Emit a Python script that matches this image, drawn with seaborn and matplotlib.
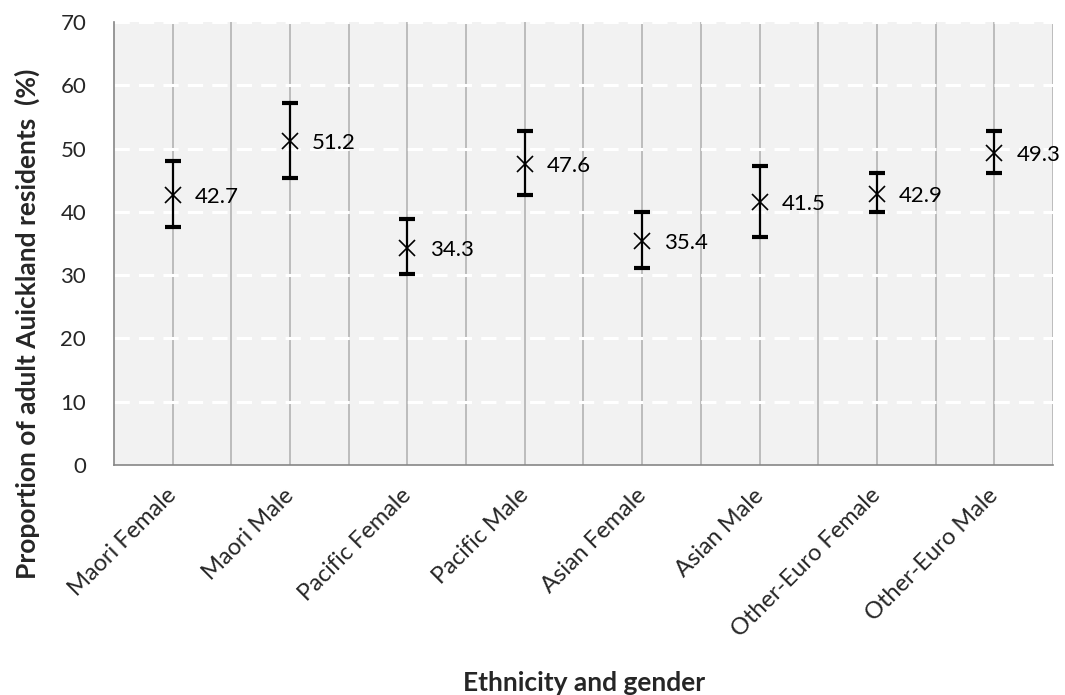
import numpy as np
import pandas as pd
import matplotlib.pyplot as plt
import matplotlib.transforms as mtransforms
import seaborn as sns

groups = ["Maori Female", "Maori Male", "Pacific Female", "Pacific Male",
          "Asian Female", "Asian Male", "Other-Euro Female", "Other-Euro Male"]
estimate = [42.7, 51.2, 34.3, 47.6, 35.4, 41.5, 42.9, 49.3]
lower = [37.6, 45.3, 30.2, 42.6, 31.2, 36.0, 39.9, 46.1]
upper = [48.1, 57.2, 38.8, 52.8, 39.9, 47.3, 46.2, 52.7]

df = pd.DataFrame({"group": groups, "estimate": estimate,
                   "lower": lower, "upper": upper})

sns.set_style("white")
plt.rcParams['font.family'] = ['Lato', 'DejaVu Sans']

fig = plt.figure(figsize=(10.65, 6.95), dpi=100)
ax = fig.add_axes([0.107, 0.331, 0.8817, 0.6373])
ax.set_facecolor("#f2f2f2")

# point estimates
sns.pointplot(data=df, x="group", y="estimate", order=groups, errorbar=None,
              linestyle="none", marker="x", markersize=11, markeredgewidth=1.2,
              color="black", ax=ax, zorder=6)

# confidence intervals on the same categorical positions
pos = np.arange(len(groups))
est = df["estimate"].to_numpy()
yerr = [est - df["lower"].to_numpy(), df["upper"].to_numpy() - est]
ax.errorbar(pos, est, yerr=yerr, fmt="none", ecolor="black", elinewidth=1.6,
            capsize=5.8, capthick=3.0, zorder=5)

for i, v in enumerate(estimate):
    ax.annotate(f"{v}", (i, v), xytext=(16, -1.5), textcoords="offset points",
                va="center", ha="left", fontsize=16, color="black")

ax.set_xlim(-0.5, len(groups) - 0.5)
ax.set_ylim(0, 70)
ax.set_yticks(range(0, 71, 10))

# vertical gridlines at category centres and boundaries
for x in np.arange(0, len(groups), 0.5):
    ax.axvline(x, color="#bcbcbc", lw=1.4, zorder=1)
for y in range(10, 71, 10):
    ax.axhline(y, color="white", lw=2.2, ls=(0, (5, 3)), zorder=1)

ax.set_xticks(range(len(groups)))
ax.set_xticklabels(groups, rotation=45, ha="right", rotation_mode="anchor",
                   fontsize=17)
ax.tick_params(axis="x", length=0, pad=12)
shift = mtransforms.ScaledTranslation(-0.07, -0.03, fig.dpi_scale_trans)
for lab in ax.get_xticklabels():
    lab.set_transform(lab.get_transform() + shift)
# boundary ticks under the axis
ax.set_xticks(np.arange(-0.5, len(groups), 1.0), minor=True)
ax.tick_params(axis="x", which="minor", length=6, color="#868686", width=1.2)
ax.tick_params(axis="y", length=6, color="#868686", width=1.2, labelsize=16, pad=14)

for s in ["top", "right"]:
    ax.spines[s].set_visible(False)
for s in ["left", "bottom"]:
    ax.spines[s].set_color("#868686")
    ax.spines[s].set_linewidth(1.2)

ax.set_xlabel("Ethnicity and gender", fontsize=19, fontweight="bold")
ax.xaxis.set_label_coords(0.5005, -0.465)
ax.set_ylabel("Proportion of adult Auickland residents  (%)", fontsize=19,
              fontweight="bold")
ax.yaxis.set_label_coords(-0.079, 0.318)

fig.savefig("out.png", dpi=100)
